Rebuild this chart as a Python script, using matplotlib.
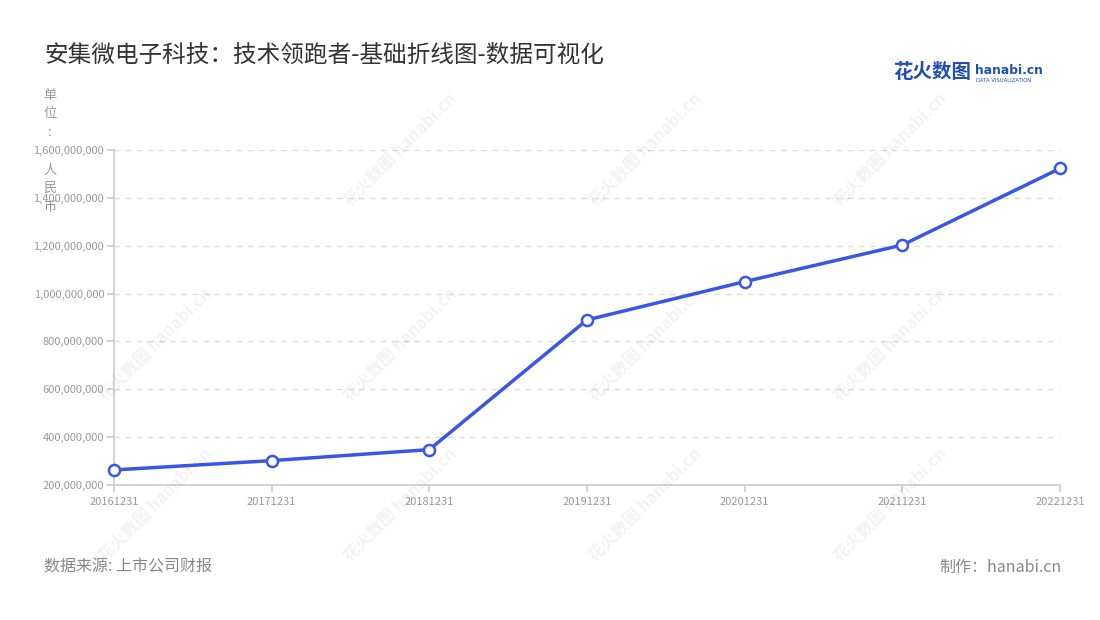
import matplotlib
matplotlib.use("Agg")
import matplotlib.pyplot as plt
from matplotlib.ticker import FuncFormatter

plt.rcParams["font.family"] = ["Noto Sans CJK SC", "DejaVu Sans"]

# data
dates = ["20161231", "20171231", "20181231", "20191231", "20201231", "20211231", "20221231"]
revenue = [263e6, 302e6, 348e6, 890e6, 1050e6, 1203e6, 1523e6]
yticks = [200e6, 400e6, 600e6, 800e6, 1000e6, 1200e6, 1400e6, 1600e6]
unit_chars = ["单", "位", ":", "人", "民", "币"]

BLUE = "#3a56e8"
GREY = "#999999"
TXT = "#333333"

fig = plt.figure(figsize=(11, 6.2), dpi=100)
ax = fig.add_axes([0.1036, 0.2177, 0.86, 0.5403])

x = list(range(len(dates)))
ax.plot(x, revenue, "-", color=BLUE, lw=2.5, zorder=3)
ax.plot(x, revenue, "o", ms=8, mfc="white", mec=BLUE, mew=1.8, zorder=4, clip_on=False)

ax.set_xlim(0, len(dates) - 1)
ax.set_ylim(200e6, 1600e6)
ax.set_yticks(yticks)
ax.yaxis.set_major_formatter(FuncFormatter(lambda v, p: f"{v:,.0f}"))
ax.set_xticks(x)
ax.set_xticklabels(dates)
ax.tick_params(axis="both", labelsize=8, colors="#cccccc", labelcolor=GREY, length=5, width=1.2)
ax.tick_params(axis="y", pad=2)
ax.grid(axis="y", color="#dddddd", ls=(0, (4, 4)), lw=1)
for s in ["top", "right"]:
    ax.spines[s].set_visible(False)
for s in ["left", "bottom"]:
    ax.spines[s].set_color("#cccccc")
    ax.spines[s].set_linewidth(1.2)
ax.set_axisbelow(True)

# faint watermarks
marks = [(400, 150), (645, 150), (890, 150),
         (155, 345), (400, 345), (645, 345), (890, 345),
         (155, 505), (400, 505), (645, 505), (890, 505)]
for mx, my in marks:
    fig.text(mx / 1100, 1 - my / 620, "花火数图 hanabi.cn", rotation=45, fontsize=12,
             color="#000000", alpha=0.05, ha="center", va="center", fontweight="bold")

fig.text(44 / 1100, 1 - 55 / 620, "安集微电子科技：技术领跑者-基础折线图-数据可视化",
         fontsize=17, color=TXT, ha="left", va="center")
unit_y = [95, 113, 132, 170, 188, 207]
for ch, uy in zip(unit_chars, unit_y):
    fig.text(50 / 1100, 1 - uy / 620, ch, fontsize=9.5, color=GREY, ha="center", va="center")

# logo
fig.text(893 / 1100, 1 - 73 / 620, "花火数图", fontsize=14, color="#1f4fb5", fontweight="bold",
         ha="left", va="center")
fig.text(975 / 1100, 1 - 70 / 620, "hanabi.cn", fontsize=8.8, color="#1f4fb5", fontweight="bold",
         ha="left", va="center", family="DejaVu Sans")
fig.text(976 / 1100, 1 - 80 / 620, "DATA VISUALIZATION", fontsize=3.8, color="#1f4fb5",
         ha="left", va="center", family="DejaVu Sans")

fig.text(44 / 1100, 1 - 567 / 620, "数据来源: 上市公司财报", fontsize=11.5, color="#888888",
         ha="left", va="center")
fig.text(1062 / 1100, 1 - 567 / 620, "制作：hanabi.cn", fontsize=11.5, color="#888888",
         ha="right", va="center")

fig.savefig("out.png", dpi=100)
